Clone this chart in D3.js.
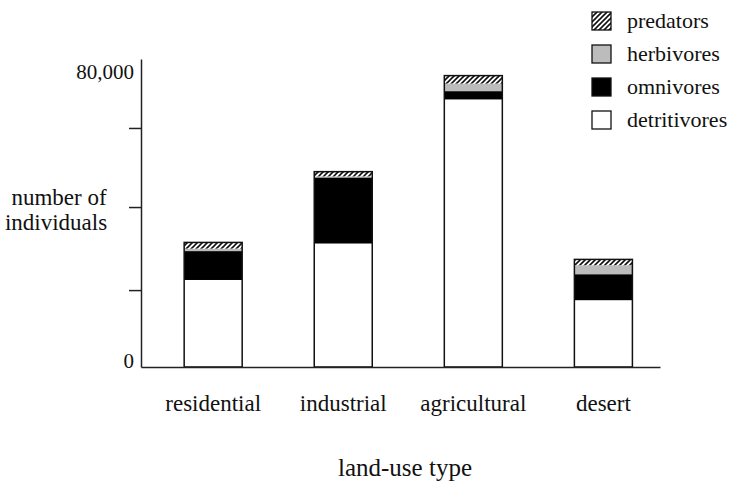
<!DOCTYPE html>
<html>
<head>
<meta charset="utf-8">
<script src="https://cdn.jsdelivr.net/npm/d3@7"></script>
<style>
  body { margin: 0; background: #fff; }
  svg text { font-family: 'Liberation Serif', 'Times New Roman', serif; fill: #111; }
</style>
</head>
<body>
<svg id="chart" width="731" height="486"></svg>
<script>
// land-use types and counts per feeding group
const categories = ['residential', 'industrial', 'agricultural', 'desert'];
const detritivores = [24100, 34200, 74100, 18500];
const omnivores = [8000, 18300, 2300, 7200];
const herbivores = [700, 300, 2100, 2500];
const predators = [1700, 1300, 2200, 1600];

// stacking order, bottom to top
const groups = ['detritivores', 'omnivores', 'herbivores', 'predators'];
const yLabels = [0, 80000];
const yMarks = [21300, 44300, 66200];
const yTop = 85300;

const svg = d3.select('#chart');

// hatch pattern for predators
const defs = svg.append('defs');
const pat = defs.append('pattern')
  .attr('id', 'hatch')
  .attr('patternUnits', 'userSpaceOnUse')
  .attr('width', 5)
  .attr('height', 5);
pat.append('rect').attr('width', 5).attr('height', 5).attr('fill', '#fff');
pat.append('path')
  .attr('d', 'M-1,1 l2,-2 M0,5 l5,-5 M4,6 l2,-2')
  .attr('stroke', '#111')
  .attr('stroke-width', 1.6);

const fills = {
  detritivores: '#fff',
  omnivores: '#000',
  herbivores: '#bcbcbc',
  predators: 'url(#hatch)'
};

const rows = categories.map((c, i) => ({
  cat: c,
  detritivores: detritivores[i],
  omnivores: omnivores[i],
  herbivores: herbivores[i],
  predators: predators[i]
}));

const x = d3.scaleBand()
  .domain(categories)
  .range([141, 660])
  .paddingInner(0.554)
  .paddingOuter(0.272)
  .align(0.61);

const y = d3.scaleLinear()
  .domain([0, yTop])
  .range([367, 59]);

const stacked = d3.stack().keys(groups)(rows);

// bars
const layer = svg.append('g').selectAll('g')
  .data(stacked)
  .enter().append('g')
  .attr('fill', d => fills[d.key]);

layer.selectAll('rect')
  .data(d => d)
  .enter().append('rect')
  .attr('x', d => x(d.data.cat))
  .attr('y', d => y(d[1]))
  .attr('width', x.bandwidth())
  .attr('height', d => y(d[0]) - y(d[1]));

// outline of each full bar
svg.append('g').selectAll('rect')
  .data(rows)
  .enter().append('rect')
  .attr('x', d => x(d.cat))
  .attr('y', d => y(d3.sum(groups, k => d[k])))
  .attr('width', x.bandwidth())
  .attr('height', d => y(0) - y(d3.sum(groups, k => d[k])))
  .attr('fill', 'none')
  .attr('stroke', '#111')
  .attr('stroke-width', 1.5);

// y axis: unlabeled tick marks
const yAxis = svg.append('g')
  .attr('transform', 'translate(141,0)')
  .call(d3.axisLeft(y).tickValues(yMarks).tickSize(12).tickSizeOuter(0).tickFormat(''));
yAxis.selectAll('path, line').attr('stroke', '#222').attr('stroke-width', 1.5);

// y axis labels (baseline sits on the value)
const yLab = svg.append('g')
  .attr('transform', 'translate(141,0)')
  .call(d3.axisLeft(y).tickValues(yLabels).tickSize(0).tickPadding(7).tickFormat(d3.format(',')));
yLab.select('.domain').remove();
yLab.selectAll('text')
  .attr('dy', 0)
  .style('font-size', '21px')
  .style('font-family', "'Liberation Serif', serif");

// x axis
const xAxis = svg.append('g')
  .attr('transform', 'translate(0,367)')
  .call(d3.axisBottom(x).tickSize(0).tickSizeOuter(0).tickPadding(28));
xAxis.select('.domain').attr('stroke', '#222').attr('stroke-width', 1.5);
xAxis.selectAll('text')
  .style('font-size', '23px')
  .style('font-family', "'Liberation Serif', serif");

// axis titles
svg.append('text')
  .attr('x', 59).attr('y', 205)
  .attr('text-anchor', 'middle')
  .style('font-size', '23px')
  .text('number of');
svg.append('text')
  .attr('x', 56).attr('y', 230)
  .attr('text-anchor', 'middle')
  .style('font-size', '23px')
  .text('individuals');

svg.append('text')
  .attr('x', 405).attr('y', 476)
  .attr('text-anchor', 'middle')
  .style('font-size', '25px')
  .text('land-use type');

// legend, top group first
const legend = svg.append('g')
  .selectAll('g')
  .data(groups.slice().reverse())
  .enter().append('g')
  .attr('transform', (d, i) => `translate(592, ${12 + i * 33})`);

legend.append('rect')
  .attr('width', 19)
  .attr('height', 18)
  .attr('fill', d => fills[d])
  .attr('stroke', '#111')
  .attr('stroke-width', 1.3);

legend.append('text')
  .attr('x', 35)
  .attr('y', 16)
  .style('font-size', '22px')
  .text(d => d);
</script>
</body>
</html>
